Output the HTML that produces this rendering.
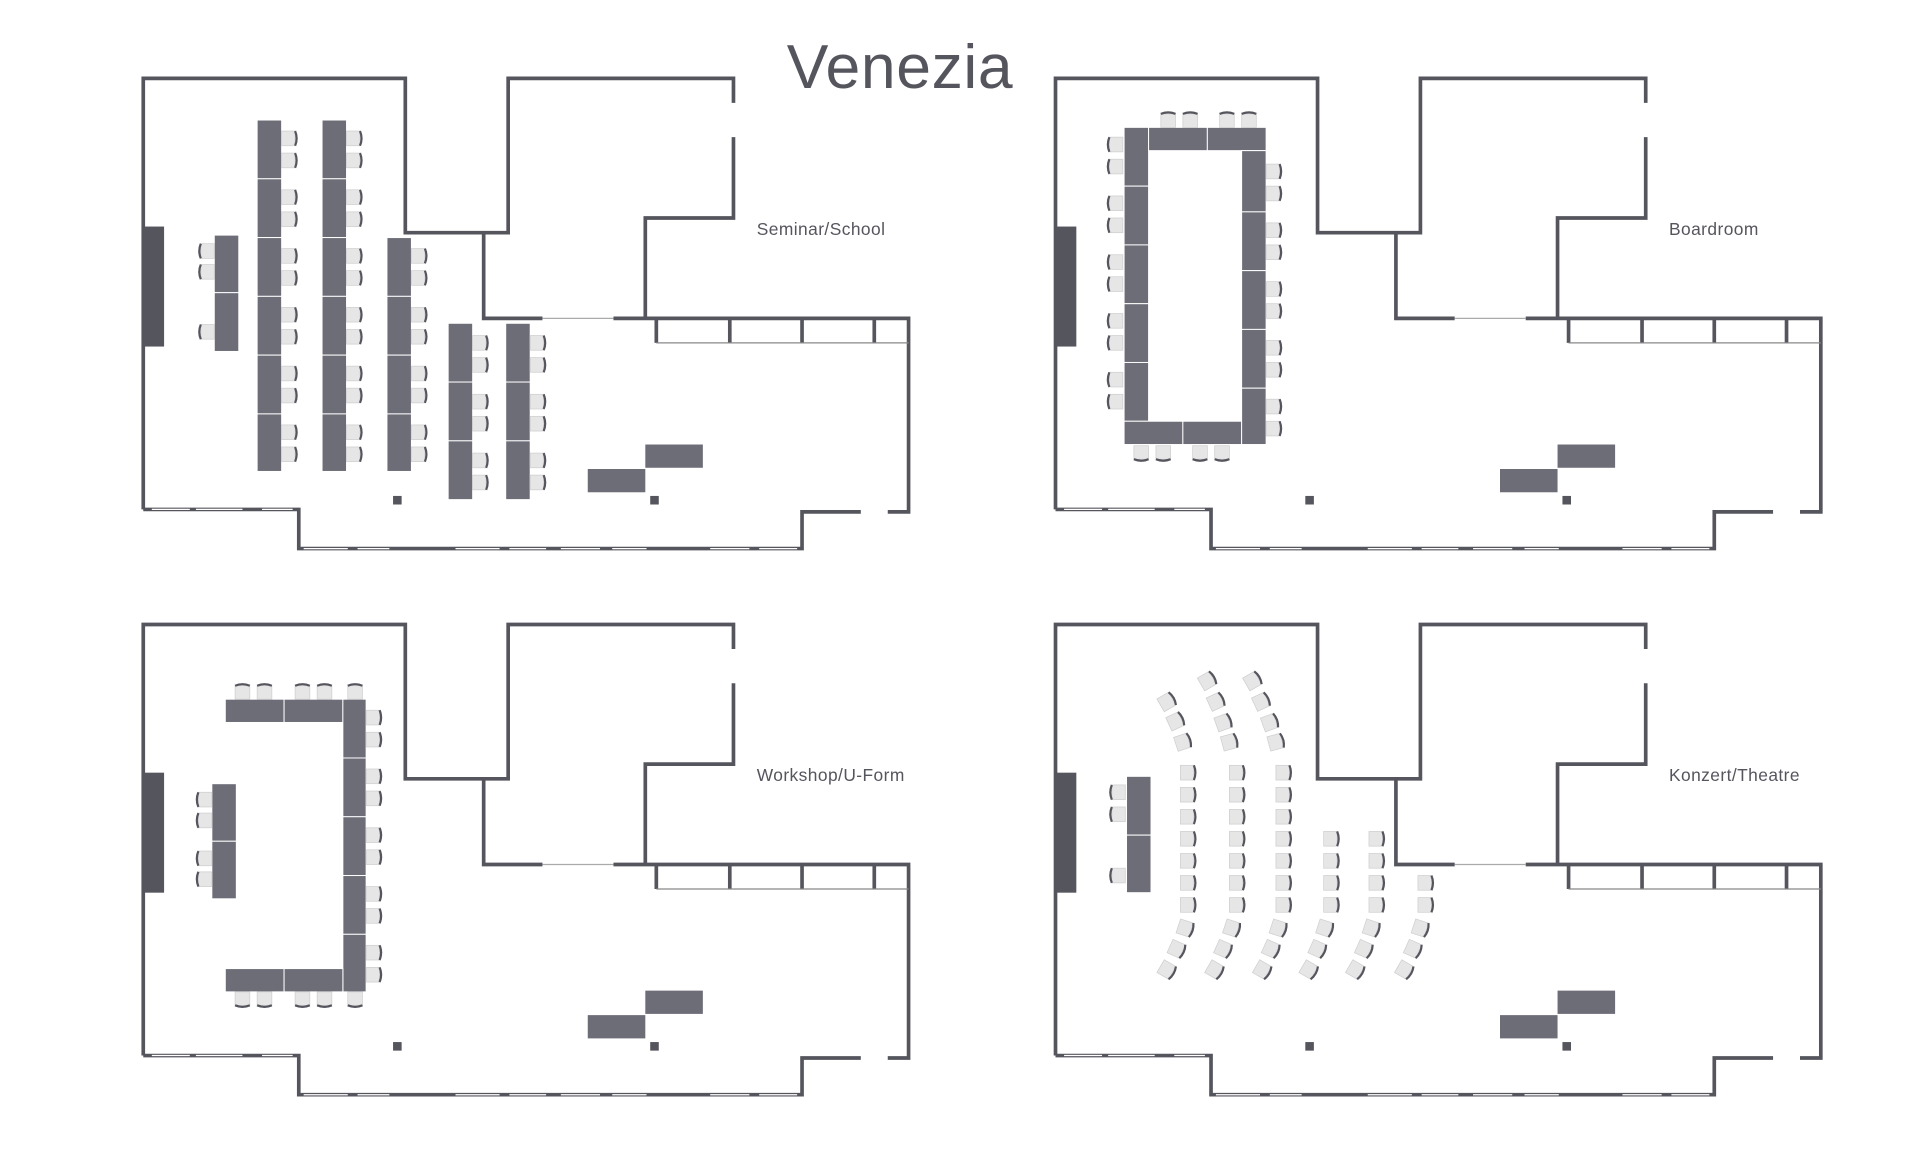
<!DOCTYPE html>
<html><head><meta charset="utf-8"><style>
html,body{margin:0;padding:0;background:#fff;}
svg{display:block;}
text{font-family:"Liberation Sans",sans-serif;fill:#55555e;}
.lbl{font-size:14.2px;letter-spacing:0.35px;}
</style></head><body>
<svg width="1920" height="1160" viewBox="0 0 1568 947.3" xmlns="http://www.w3.org/2000/svg">
<defs>
<g id="room">
 <g fill="none" stroke="#55555e" stroke-width="3">
  <path d="M117,416 V64 H331 V190 H415 V64 H599 V84"/>
  <path d="M599,112 V178 H527 V260"/>
  <path d="M395,190 V260 H443"/>
  <path d="M501,260 H742 V418 H725"/>
  <path d="M703,418 H655 V448 H244 V416 H117"/>
  <path d="M536,260 V280 M596,260 V280 M655,260 V280 M714,260 V280"/>
 </g>
 <path d="M443,260 H501" stroke="#aaa" stroke-width="1"/>
 <path d="M536,280 H742" stroke="#888" stroke-width="1"/>
 <path d="M124,416 H155 M160,416 H198 M214,416 H239 M248,448 H284 M292,448 H318 M372,448 H408 M416,448 H446 M458,448 H490 M500,448 H528 M580,448 H612 M620,448 H651" stroke="#fff" stroke-width="1"/>
 <rect x="117" y="185" width="17" height="98" fill="#55555e"/>
 <rect x="321" y="405" width="7" height="7" fill="#55555e"/>
 <rect x="531" y="405" width="7" height="7" fill="#55555e"/>
 <rect x="480" y="383" width="47" height="19" fill="#6d6d78"/>
 <rect x="527" y="363" width="47" height="19" fill="#6d6d78"/>
</g>
<g id="c">
 <rect x="-6" y="-6" width="11" height="12" fill="#e6e6e6" stroke="#cfcfcf" stroke-width="0.6"/>
 <path d="M5,-6 Q7.5,0 5,6" fill="none" stroke="#55555e" stroke-width="1.8"/>
</g>
</defs>

<text x="735" y="72" font-size="51" text-anchor="middle" letter-spacing="0.5">Venezia</text>

<!-- Seminar -->
<use href="#room"/>
<text x="618" y="192" class="lbl">Seminar/School</text>
<g fill="#6d6d78" stroke="#fff" stroke-width="0.8">
 <rect x="175" y="192" width="20" height="47"/><rect x="175" y="239" width="20" height="48"/>
 <rect x="210" y="98" width="20" height="48"/><rect x="210" y="146" width="20" height="48"/><rect x="210" y="194" width="20" height="48"/><rect x="210" y="242" width="20" height="48"/><rect x="210" y="290" width="20" height="48"/><rect x="210" y="338" width="20" height="47"/>
 <rect x="263" y="98" width="20" height="48"/><rect x="263" y="146" width="20" height="48"/><rect x="263" y="194" width="20" height="48"/><rect x="263" y="242" width="20" height="48"/><rect x="263" y="290" width="20" height="48"/><rect x="263" y="338" width="20" height="47"/>
 <rect x="316" y="194" width="20" height="48"/><rect x="316" y="242" width="20" height="48"/><rect x="316" y="290" width="20" height="48"/><rect x="316" y="338" width="20" height="47"/>
 <rect x="366" y="264" width="20" height="48"/><rect x="366" y="312" width="20" height="48"/><rect x="366" y="360" width="20" height="48"/>
 <rect x="413" y="264" width="20" height="48"/><rect x="413" y="312" width="20" height="48"/><rect x="413" y="360" width="20" height="48"/>
</g>
<g>
 <use href="#c" transform="translate(169,205) rotate(180)"/><use href="#c" transform="translate(169,222) rotate(180)"/><use href="#c" transform="translate(169,271) rotate(180)"/>
 <g transform="translate(236,0)"><use href="#c" y="113"/><use href="#c" y="131"/><use href="#c" y="161"/><use href="#c" y="179"/><use href="#c" y="209"/><use href="#c" y="227"/><use href="#c" y="257"/><use href="#c" y="275"/><use href="#c" y="305"/><use href="#c" y="323"/><use href="#c" y="353"/><use href="#c" y="371"/></g>
 <g transform="translate(289,0)"><use href="#c" y="113"/><use href="#c" y="131"/><use href="#c" y="161"/><use href="#c" y="179"/><use href="#c" y="209"/><use href="#c" y="227"/><use href="#c" y="257"/><use href="#c" y="275"/><use href="#c" y="305"/><use href="#c" y="323"/><use href="#c" y="353"/><use href="#c" y="371"/></g>
 <g transform="translate(342,0)"><use href="#c" y="209"/><use href="#c" y="227"/><use href="#c" y="257"/><use href="#c" y="275"/><use href="#c" y="305"/><use href="#c" y="323"/><use href="#c" y="353"/><use href="#c" y="371"/></g>
 <g transform="translate(392,0)"><use href="#c" y="280"/><use href="#c" y="298"/><use href="#c" y="328"/><use href="#c" y="346"/><use href="#c" y="376"/><use href="#c" y="394"/></g>
 <g transform="translate(439,0)"><use href="#c" y="280"/><use href="#c" y="298"/><use href="#c" y="328"/><use href="#c" y="346"/><use href="#c" y="376"/><use href="#c" y="394"/></g>
</g>

<!-- Boardroom -->
<use href="#room" x="745"/>
<text x="1363" y="192" class="lbl">Boardroom</text>
<g fill="#6d6d78" stroke="#fff" stroke-width="0.8">
 <rect x="918" y="104" width="20" height="48"/><rect x="918" y="152" width="20" height="48"/><rect x="918" y="200" width="20" height="48"/><rect x="918" y="248" width="20" height="48"/><rect x="918" y="296" width="20" height="48"/>
 <rect x="918" y="344" width="48" height="19"/><rect x="966" y="344" width="48" height="19"/>
 <rect x="938" y="104" width="48" height="19"/><rect x="986" y="104" width="48" height="19"/>
 <rect x="1014" y="123" width="20" height="50"/><rect x="1014" y="173" width="20" height="48"/><rect x="1014" y="221" width="20" height="48"/><rect x="1014" y="269" width="20" height="48"/><rect x="1014" y="317" width="20" height="46"/>
</g>
<g>
 <use href="#c" transform="translate(954,98) rotate(-90)"/><use href="#c" transform="translate(972,98) rotate(-90)"/><use href="#c" transform="translate(1002,98) rotate(-90)"/><use href="#c" transform="translate(1020,98) rotate(-90)"/>
 <use href="#c" transform="translate(932,370) rotate(90)"/><use href="#c" transform="translate(950,370) rotate(90)"/><use href="#c" transform="translate(980,370) rotate(90)"/><use href="#c" transform="translate(998,370) rotate(90)"/>
 <g transform="translate(911,0)"><use href="#c" transform="translate(0,118) rotate(180)"/><use href="#c" transform="translate(0,136) rotate(180)"/><use href="#c" transform="translate(0,166) rotate(180)"/><use href="#c" transform="translate(0,184) rotate(180)"/><use href="#c" transform="translate(0,214) rotate(180)"/><use href="#c" transform="translate(0,232) rotate(180)"/><use href="#c" transform="translate(0,262) rotate(180)"/><use href="#c" transform="translate(0,280) rotate(180)"/><use href="#c" transform="translate(0,310) rotate(180)"/><use href="#c" transform="translate(0,328) rotate(180)"/></g>
 <g transform="translate(1040,0)"><use href="#c" y="140"/><use href="#c" y="158"/><use href="#c" y="188"/><use href="#c" y="206"/><use href="#c" y="236"/><use href="#c" y="254"/><use href="#c" y="284"/><use href="#c" y="302"/><use href="#c" y="332"/><use href="#c" y="350"/></g>
</g>

<!-- Workshop -->
<use href="#room" y="446"/>
<text x="618" y="638" class="lbl">Workshop/U-Form</text>
<g fill="#6d6d78" stroke="#fff" stroke-width="0.8">
 <rect x="173" y="640" width="20" height="47"/><rect x="173" y="687" width="20" height="47"/>
 <rect x="184" y="571" width="48" height="19"/><rect x="232" y="571" width="48" height="19"/>
 <rect x="280" y="571" width="19" height="48"/><rect x="280" y="619" width="19" height="48"/><rect x="280" y="667" width="19" height="48"/><rect x="280" y="715" width="19" height="48"/><rect x="280" y="763" width="19" height="47"/>
 <rect x="184" y="791" width="48" height="19"/><rect x="232" y="791" width="48" height="19"/>
</g>
<g>
 <use href="#c" transform="translate(167,653) rotate(180)"/><use href="#c" transform="translate(167,670) rotate(180)"/><use href="#c" transform="translate(167,701) rotate(180)"/><use href="#c" transform="translate(167,718) rotate(180)"/>
 <use href="#c" transform="translate(198,565) rotate(-90)"/><use href="#c" transform="translate(216,565) rotate(-90)"/><use href="#c" transform="translate(247,565) rotate(-90)"/><use href="#c" transform="translate(265,565) rotate(-90)"/><use href="#c" transform="translate(290,565) rotate(-90)"/>
 <use href="#c" transform="translate(198,816) rotate(90)"/><use href="#c" transform="translate(216,816) rotate(90)"/><use href="#c" transform="translate(247,816) rotate(90)"/><use href="#c" transform="translate(265,816) rotate(90)"/><use href="#c" transform="translate(290,816) rotate(90)"/>
 <g transform="translate(305,0)"><use href="#c" y="586"/><use href="#c" y="604"/><use href="#c" y="634"/><use href="#c" y="652"/><use href="#c" y="682"/><use href="#c" y="700"/><use href="#c" y="730"/><use href="#c" y="748"/><use href="#c" y="778"/><use href="#c" y="796"/></g>
</g>

<!-- Theatre -->
<use href="#room" x="745" y="446"/>
<text x="1363" y="638" class="lbl">Konzert/Theatre</text>
<g fill="#6d6d78" stroke="#fff" stroke-width="0.8">
 <rect x="920" y="634" width="20" height="48"/><rect x="920" y="682" width="20" height="47"/>
</g>
<g>
 <use href="#c" transform="translate(913,647) rotate(180)"/><use href="#c" transform="translate(913,665) rotate(180)"/><use href="#c" transform="translate(913,715) rotate(180)"/>
 <g transform="translate(970,0)"><use href="#c" y="631"/><use href="#c" y="649"/><use href="#c" y="667"/><use href="#c" y="685"/><use href="#c" y="703"/><use href="#c" y="721"/><use href="#c" y="739"/></g>
 <g transform="translate(1010,0)"><use href="#c" y="631"/><use href="#c" y="649"/><use href="#c" y="667"/><use href="#c" y="685"/><use href="#c" y="703"/><use href="#c" y="721"/><use href="#c" y="739"/></g>
 <g transform="translate(1048,0)"><use href="#c" y="631"/><use href="#c" y="649"/><use href="#c" y="667"/><use href="#c" y="685"/><use href="#c" y="703"/><use href="#c" y="721"/><use href="#c" y="739"/></g>
 <g transform="translate(1087,0)"><use href="#c" y="685"/><use href="#c" y="703"/><use href="#c" y="721"/><use href="#c" y="739"/></g>
 <g transform="translate(1124,0)"><use href="#c" y="685"/><use href="#c" y="703"/><use href="#c" y="721"/><use href="#c" y="739"/></g>
 <g transform="translate(1164,0)"><use href="#c" y="721"/><use href="#c" y="739"/></g>
 <use href="#c" transform="translate(953,573) rotate(-30)"/><use href="#c" transform="translate(960,589) rotate(-25)"/><use href="#c" transform="translate(966,606) rotate(-18)"/>
 <use href="#c" transform="translate(986,556) rotate(-30)"/><use href="#c" transform="translate(993,573) rotate(-25)"/><use href="#c" transform="translate(999,590) rotate(-20)"/><use href="#c" transform="translate(1004,606) rotate(-15)"/>
 <use href="#c" transform="translate(1023,556) rotate(-30)"/><use href="#c" transform="translate(1030,573) rotate(-25)"/><use href="#c" transform="translate(1037,590) rotate(-20)"/><use href="#c" transform="translate(1042,606) rotate(-15)"/>
 <use href="#c" transform="translate(968,758) rotate(18)"/><use href="#c" transform="translate(961,775) rotate(24)"/><use href="#c" transform="translate(953,792) rotate(30)"/>
 <use href="#c" transform="translate(1006,758) rotate(18)"/><use href="#c" transform="translate(999,775) rotate(24)"/><use href="#c" transform="translate(992,792) rotate(30)"/>
 <use href="#c" transform="translate(1044,758) rotate(18)"/><use href="#c" transform="translate(1038,775) rotate(24)"/><use href="#c" transform="translate(1031,792) rotate(30)"/>
 <use href="#c" transform="translate(1082,758) rotate(18)"/><use href="#c" transform="translate(1076,775) rotate(24)"/><use href="#c" transform="translate(1069,792) rotate(30)"/>
 <use href="#c" transform="translate(1120,758) rotate(18)"/><use href="#c" transform="translate(1114,775) rotate(24)"/><use href="#c" transform="translate(1107,792) rotate(30)"/>
 <use href="#c" transform="translate(1160,758) rotate(18)"/><use href="#c" transform="translate(1154,775) rotate(24)"/><use href="#c" transform="translate(1147,792) rotate(30)"/>
</g>
</svg>
</body></html>
